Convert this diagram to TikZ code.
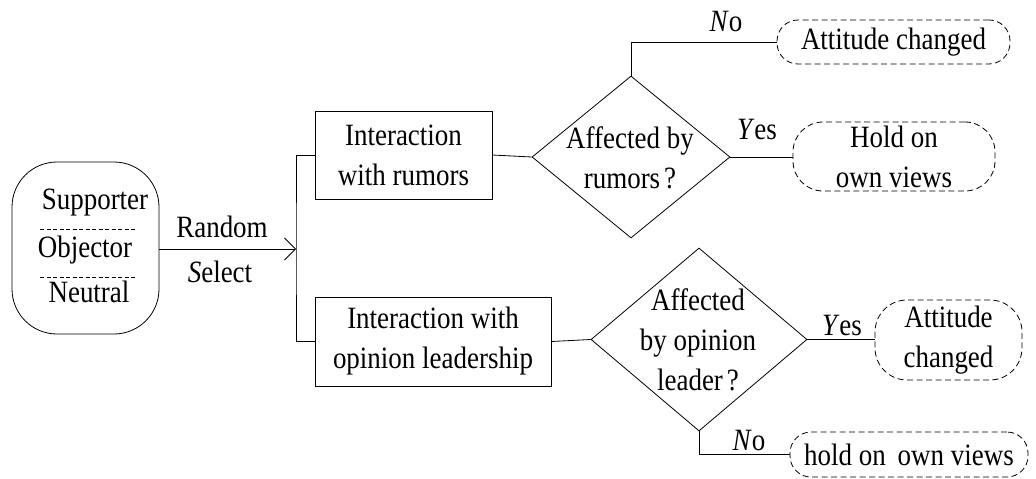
\documentclass[tikz,border=0pt]{standalone}
\usepackage{fontspec}
\setmainfont[FakeStretch=0.87]{Liberation Serif}
\usetikzlibrary{shapes.geometric,arrows.meta}
\begin{document}
\begin{tikzpicture}[x=1pt,y=-1pt,
  every node/.style={font=\fontsize{31}{40}\selectfont, inner sep=0pt, align=center},
  line/.style={line width=0.8pt, draw=black},
  proc/.style={line, rectangle},
  start/.style={line, rectangle, rounded corners=45pt},
  decis/.style={line, diamond},
  result/.style={line, rectangle, dash pattern=on 6pt off 3.5pt},
  sep/.style={line width=0.7pt, dash pattern=on 4pt off 2.5pt},
  conn/.style={line},
  arr/.style={line, -{Straight Barb[length=11pt,width=22pt,line width=0.8pt]}},
  lbl/.style={}
]
\useasboundingbox (0,0) rectangle (1036,479);

% start box
\node[start, minimum width=147pt, minimum height=172pt] (L) at (85.5,248) {};
\node (sup) at (95,203) {Supporter};
\node (obj) at (85,250) {Objector};
\node (neu) at (89,292) {Neutral};
\coordinate (s1a) at (40,229); \coordinate (s1b) at (137,229);
\coordinate (s2a) at (40,277); \coordinate (s2b) at (137,277);
\draw[sep] (s1a) -- (s1b);
\draw[sep] (s2a) -- (s2b);

% junction
\coordinate (j) at (296,249);
\draw[arr] (L.east |- j) -- (j);
\node[lbl] (rand) at (222,227) {Random};
\node[lbl] (sel) at (220,272) {\textit{S}elect};

% process boxes
\node[proc, minimum width=177pt, minimum height=88pt] (b1) at (403.5,155) {Interaction\\with rumors};
\node[proc, minimum width=236pt, minimum height=89pt] (b2) at (433,341.5) {Interaction with\\opinion leadership};
\draw[conn] (b1.west) -| (j) |- (b2.west);

% decisions
\node[decis, minimum width=198pt, minimum height=162pt] (d1) at (631,157) {};
\node (d1t) at (630,157.5) {Affected by\\rumors\kern4pt?};
\node[decis, minimum width=216pt, minimum height=183pt] (d2) at (699,339.5) {};
\node (d2t) at (698,340) {Affected\\by opinion\\leader\kern4pt?};
\draw[conn] (b1.east) -- (d1.west);
\draw[conn] (b2.east) -- (d2.west);

% results
\node[result, rounded corners=21pt, minimum width=233pt, minimum height=44pt] (t1) at (893.5,42) {Attitude changed};
\node[result, rounded corners=30pt, minimum width=202pt, minimum height=69pt] (h1) at (894,156.5) {Hold on\\own views};
\node[result, rounded corners=32pt, minimum width=147pt, minimum height=80pt] (a2) at (948.5,340) {Attitude\\changed};
\node[result, rounded corners=21pt, minimum width=238pt, minimum height=45pt] (h2) at (909,454.5) {hold on\, own views};

\draw[conn] (d1.north) |- (t1.west);
\draw[conn] (d1.east) -- (h1.west |- d1.east);
\draw[conn] (d2.east) -- (a2.west |- d2.east);
\draw[conn] (d2.south) |- (h2.west);

\node[lbl] (no1) at (726,22) {\textit{N}o};
\node[lbl] (yes1) at (757,130) {\textit{Y}es};
\node[lbl] (yes2) at (842,325) {\textit{Y}es};
\node[lbl] (no2) at (749,440) {\textit{N}o};
\end{tikzpicture}
\end{document}
